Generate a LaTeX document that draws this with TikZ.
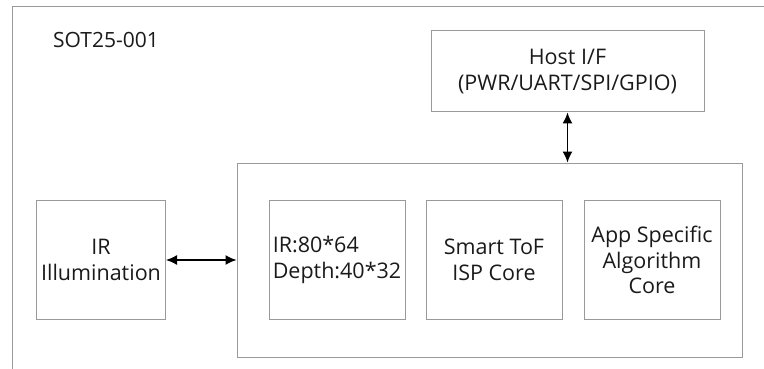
\documentclass[tikz,border=0pt]{standalone}
\usepackage{fontspec}
\setmainfont{Open Sans}
\usetikzlibrary{arrows.meta}
\definecolor{boxgray}{HTML}{9A9A9A}
\definecolor{txt}{HTML}{1A1A1A}
\tikzset{
  blk/.style={draw=boxgray, line width=1pt, inner sep=0pt, text=txt, align=center,
    font=\fontsize{21.5}{25.5}\selectfont},
  conn/.style={line width=1.3pt, black, {Latex[length=11pt,width=10pt]}-{Latex[length=11pt,width=10pt]}},
}
\begin{document}
\begin{tikzpicture}[x=1pt,y=-1pt]
\useasboundingbox (0,0) rectangle (764,369);
\coordinate (ftop) at (764,7);
\coordinate (fcorner) at (12,7);
\coordinate (fbot) at (12,369);
\draw[boxgray, line width=1pt] (ftop) -- (fcorner) -- (fbot);
\node[anchor=base west, text=txt, font=\fontsize{21}{24}\selectfont, inner sep=0pt] (title) at (53,48) {SOT25-001};
\node[blk, minimum width=273pt, minimum height=81pt] (host) at (567.5,71.5) {Host I/F\\(PWR/UART/SPI/GPIO)};
\node[blk, minimum width=505pt, minimum height=194pt] (chip) at (489.5,260) {};
\node[blk, minimum width=129pt, minimum height=119pt] (ir) at (101,260) {IR\\Illumination};
\node[blk, minimum width=136pt, minimum height=119pt, align=left] (sens) at (337,260) {IR:80*64\\Depth:40*32};
\node[blk, minimum width=136pt, minimum height=119pt] (isp) at (494,260) {Smart ToF\\ISP Core};
\node[blk, minimum width=136pt, minimum height=119pt] (app) at (652,260) {App Specific\\Algorithm\\Core};
\draw[conn] (host.south) -- (host.south |- chip.north);
\draw[conn] (ir.east) -- (chip.west);
\end{tikzpicture}
\end{document}
